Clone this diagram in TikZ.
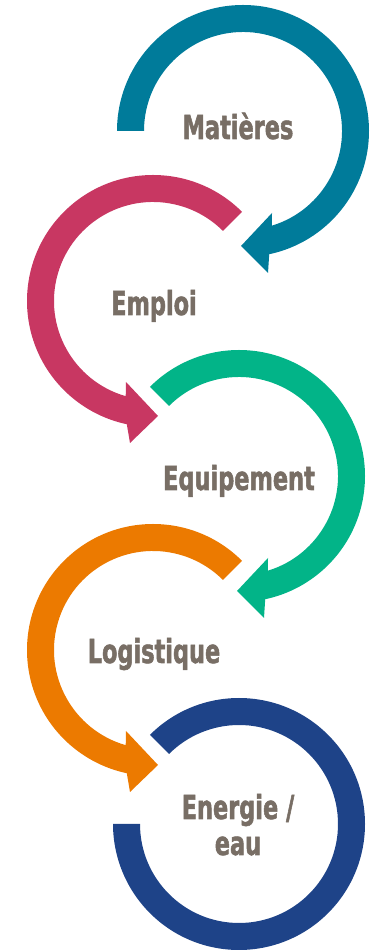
\documentclass[tikz,border=0pt]{standalone}
\usepackage{fontspec}
\usepackage{tikz}
\usetikzlibrary{calc}
\newfontfamily\lblfont{DejaVu Sans}[FakeStretch=0.68, FakeBold=1.6]
\definecolor{teal1}{HTML}{007B9A}
\definecolor{rose1}{HTML}{C83762}
\definecolor{green1}{HTML}{02B488}
\definecolor{orange1}{HTML}{EC7A00}
\definecolor{blue1}{HTML}{1E4388}
\definecolor{taupe}{HTML}{786E65}
% ring arrow turning clockwise, ends pointing left at the bottom
\def\cwarrow[#1](#2)(#3){\fill[#1] ($(#2)+(#3:126)$) arc (#3:-78:126) -- ($(#2)+(25,-142)$) -- ($(#2)+(-2,-115)$) -- ($(#2)+(29,-82)$) -- ($(#2)+(-73:99)$) arc (-73:#3:99) -- cycle;}
% ring arrow turning counter-clockwise, ends pointing right at the bottom
\def\ccwarrow[#1](#2)(#3){\fill[#1] ($(#2)+(#3:126)$) arc (#3:258:126) -- ($(#2)+(-23,-142)$) -- ($(#2)+(5,-115)$) -- ($(#2)+(-27,-81)$) -- ($(#2)+(254:99)$) arc (254:#3:99) -- cycle;}
\tikzset{lbl/.style={text=taupe, font=\lblfont\bfseries\fontsize{33}{36}\selectfont, align=center, anchor=base, inner sep=0pt}}

\begin{document}
\begin{tikzpicture}[x=1pt, y=1pt]
		%%%%% START %%%%%
		\useasboundingbox (0, 0) rectangle (370, 951);
		
		\coordinate (r1) at (243, 820);
		\coordinate (r2) at (153, 650);
		\coordinate (r3) at (239, 475);
		\coordinate (r4) at (153, 301);
		\coordinate (r5) at (239, 127);
		
		\cwarrow[teal1](r1)(180);
		\ccwarrow[rose1](r2)(45);
		\cwarrow[green1](r3)(135);
		\ccwarrow[orange1](r4)(45);
		\fill[blue1] ($(r5)+(135:126)$) arc (135:-180:126) -- ($(r5)+(180:99)$) arc (-180:135:99) -- cycle;
		
		\node[lbl] (matieres) at (238, 812) {Matières};
		\node[lbl] (emploi) at (154, 636) {Emploi};
		\node[lbl] (equipement) at (239, 461) {Equipement};
		\node[lbl] (logistique) at (154, 288) {Logistique};
		\node[lbl] (energie) at (238, 96) {Energie /\\eau};
		
		%%%%% END %%%%%
	\end{tikzpicture}
\end{document}
